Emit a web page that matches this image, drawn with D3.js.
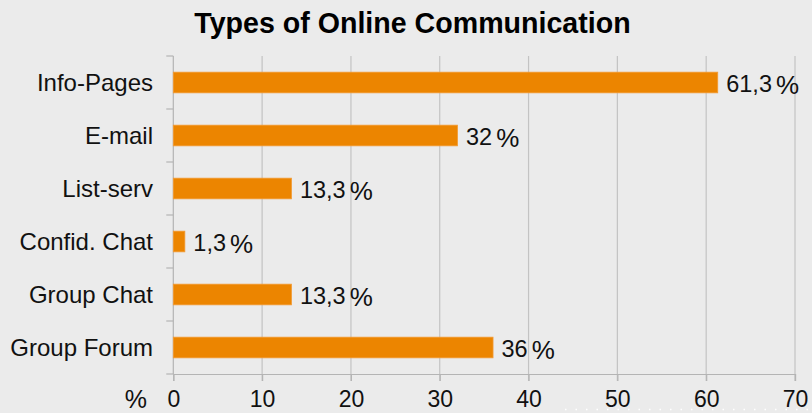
<!DOCTYPE html>
<html>
<head>
<meta charset="utf-8">
<script src="https://cdn.jsdelivr.net/npm/d3@7"></script>
<style>
  html, body { margin: 0; padding: 0; background: #ebebeb; }
  svg { display: block; font-family: "Liberation Sans", Arial, sans-serif; }
</style>
</head>
<body>
<svg id="chart" width="812" height="413"></svg>
<script>
const title = "Types of Online Communication";
const categories = ["Info-Pages", "E-mail", "List-serv", "Confid. Chat", "Group Chat", "Group Forum"];
const values = [61.3, 32, 13.3, 1.3, 13.3, 36];
const valueLabels = ["61,3", "32", "13,3", "1,3", "13,3", "36"];
const xTicks = [0, 10, 20, 30, 40, 50, 60, 70];
const xUnit = "%";

const W = 812, H = 413;
const margin = { top: 56, right: 17, bottom: 39, left: 173.3 };
const svg = d3.select("#chart");
svg.append("rect").attr("width", W).attr("height", H).attr("fill", "#ebebeb");

const x = d3.scaleLinear().domain([0, 70]).range([margin.left, W - margin.right]);
const y = d3.scaleBand().domain(categories).range([margin.top, H - margin.bottom]).padding(0);

const gridColor = "#c3c3c3";
const axisColor = "#b4b4b4";

// vertical gridlines (with tick extension below axis)
svg.append("g").selectAll("line").data(xTicks.filter(d => d > 0)).join("line")
  .attr("x1", d => x(d)).attr("x2", d => x(d))
  .attr("y1", margin.top).attr("y2", H - margin.bottom + 7)
  .attr("stroke", gridColor).attr("stroke-width", 1.2);

// x axis
const xAxis = svg.append("g").attr("transform", `translate(0,${H - margin.bottom})`)
  .call(d3.axisBottom(x).tickValues(xTicks).tickSize(7).tickPadding(9).tickFormat(d3.format("d")));
xAxis.select(".domain").attr("stroke", axisColor).attr("stroke-width", 1.2);
xAxis.selectAll(".tick line").attr("stroke", axisColor).attr("stroke-width", 1.2);
xAxis.selectAll(".tick text").attr("font-size", 23).attr("fill", "#111")
  .attr("font-family", "Liberation Sans, Arial, sans-serif").attr("dy", "0.72em");

// unit label
svg.append("text").attr("x", 147).attr("y", 408).attr("text-anchor", "end")
  .attr("font-size", 25).attr("fill", "#111").text(xUnit);

// y axis line
svg.append("line").attr("x1", x(0)).attr("x2", x(0))
  .attr("y1", margin.top).attr("y2", H - margin.bottom)
  .attr("stroke", axisColor).attr("stroke-width", 1.2);
// y ticks at band boundaries
const boundaries = categories.map(c => y(c)).concat([y(categories[categories.length - 1]) + y.bandwidth()]);
svg.append("g").selectAll("line").data(boundaries).join("line")
  .attr("x1", x(0) - 7).attr("x2", x(0))
  .attr("y1", d => d).attr("y2", d => d)
  .attr("stroke", axisColor).attr("stroke-width", 1.2);

// category labels
svg.append("g").selectAll("text").data(categories).join("text")
  .attr("x", 153).attr("y", d => y(d) + y.bandwidth() / 2 + 8.5)
  .attr("text-anchor", "end").attr("font-size", 24).attr("fill", "#111")
  .text(d => d);

// bars
const barH = y.bandwidth() * 0.39;
svg.append("g").selectAll("rect").data(categories).join("rect")
  .attr("x", x(0)).attr("y", d => y(d) + y.bandwidth() / 2 - barH / 2)
  .attr("width", (d, i) => x(values[i]) - x(0)).attr("height", barH)
  .attr("fill", "#ec8500").attr("stroke", "#f29a33").attr("stroke-width", 0.8);

// value labels
const vl = svg.append("g").selectAll("text").data(categories).join("text")
  .attr("x", (d, i) => x(values[i]) + 8.5)
  .attr("y", d => y(d) + y.bandwidth() / 2 + 9.5)
  .attr("fill", "#111");
vl.append("tspan").attr("font-size", 23.5).text((d, i) => valueLabels[i]);
vl.append("tspan").attr("font-size", 26).attr("dx", 4).attr("dy", 2).text("%");

// title
svg.append("text").attr("x", 412.5).attr("y", 33).attr("text-anchor", "middle")
  .attr("font-size", 28.6).attr("font-weight", "bold").attr("fill", "#000")
  .text(title);

// faint dotted line at bottom right
svg.append("line").attr("x1", 565).attr("x2", 812).attr("y1", 409.5).attr("y2", 409.5)
  .attr("stroke", "#ffffff").attr("stroke-width", 1.5).attr("stroke-dasharray", "1.5,9");
</script>
</body>
</html>
